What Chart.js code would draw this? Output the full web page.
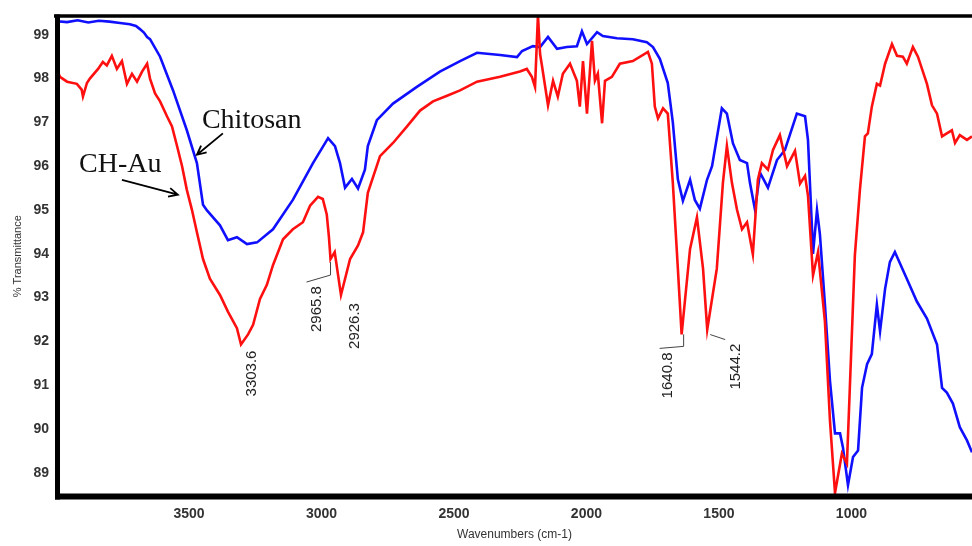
<!DOCTYPE html>
<html>
<head>
<meta charset="utf-8">
<title>FTIR Chitosan / CH-Au</title>
<script src="https://cdn.jsdelivr.net/npm/chart.js@4.4.1/dist/chart.umd.min.js"></script>
<style>
  html, body { margin: 0; padding: 0; background: #fff; }
  canvas { display: block; }
</style>
</head>
<body>
<canvas id="ftirChart" width="972" height="546"></canvas>
<script>
// Chitosan (blue)
const chitosanWn = [3998, 3960, 3920, 3880, 3840, 3800, 3760, 3723, 3700, 3685, 3670, 3658, 3647, 3609, 3560, 3508, 3470, 3447, 3432, 3383,
  3353, 3319, 3281, 3243, 3183, 3108, 3032, 2975, 2949, 2930, 2911, 2885, 2862, 2836, 2825, 2791, 2730, 2640, 2553, 2477,
  2413, 2326, 2262, 2243, 2202, 2175, 2145, 2111, 2074, 2036, 2017, 1998, 1960, 1938, 1885, 1825, 1772, 1749, 1723, 1693,
  1674, 1655, 1636, 1609, 1591, 1572, 1545, 1526, 1489, 1470, 1447, 1421, 1394, 1383, 1364, 1345, 1315, 1281, 1251, 1206,
  1175, 1164, 1149, 1145, 1130, 1119, 1100, 1081, 1062, 1043, 1032, 1013, 994, 975, 960, 941, 923, 904, 892, 873,
  855, 836, 791, 753, 715, 677, 658, 640, 617, 591, 564, 545];
const chitosanT = [99.31, 99.29, 99.33, 99.28, 99.32, 99.3, 99.27, 99.24, 99.2, 99.13, 99.05, 98.95, 98.9, 98.5, 97.73, 96.82, 96.07, 95.12, 94.99, 94.65,
  94.31, 94.38, 94.22, 94.26, 94.56, 95.23, 96.07, 96.64, 96.46, 96.07, 95.51, 95.71, 95.49, 95.92, 96.46, 97.05, 97.43, 97.81, 98.16, 98.4,
  98.59, 98.54, 98.49, 98.63, 98.74, 98.72, 98.95, 98.68, 98.72, 98.74, 99.08, 98.79, 99.06, 98.97, 98.92, 98.9, 98.83, 98.72, 98.45, 97.9,
  97.0, 95.7, 95.21, 95.69, 95.23, 95.03, 95.69, 96.0, 97.32, 97.2, 96.52, 96.14, 96.07, 95.62, 95.01, 95.85, 95.51, 96.14, 96.37, 97.2,
  97.14, 96.6, 94.6, 94.0, 95.0, 94.45, 92.84, 91.1, 89.9, 89.9, 89.58, 88.72, 89.36, 89.51, 90.94, 91.48, 91.71, 92.84, 92.23, 93.2,
  93.81, 94.04, 93.43, 92.91, 92.52, 91.93, 90.94, 90.83, 90.58, 90.04, 89.74, 89.47];

// CH-Au (red)
const chauWn = [3998, 3987, 3960, 3923, 3905, 3900, 3885, 3874, 3843, 3825, 3810, 3791, 3772, 3753, 3734, 3715, 3696, 3677, 3658, 3647,
  3628, 3609, 3583, 3564, 3545, 3526, 3508, 3489, 3470, 3447, 3421, 3383, 3353, 3319, 3303.6, 3277, 3258, 3232, 3206, 3183,
  3145, 3108, 3070, 3043, 3013, 2995, 2980, 2972, 2965.8, 2950, 2926.3, 2892, 2862, 2843, 2825, 2779, 2730, 2677, 2628, 2579,
  2526, 2477, 2413, 2326, 2251, 2225, 2206, 2194, 2183, 2175, 2168, 2145, 2126, 2108, 2089, 2062, 2036, 2025, 2013, 1998,
  1979, 1968, 1957, 1941, 1930, 1904, 1874, 1825, 1768, 1753, 1742, 1730, 1711, 1693, 1674, 1655, 1640.8, 1609, 1583, 1560,
  1544.2, 1508, 1485, 1470, 1451, 1432, 1413, 1394, 1372, 1353, 1338, 1315, 1296, 1270, 1243, 1213, 1194, 1175, 1164, 1145,
  1126, 1100, 1081, 1062, 1036, 1017, 1006, 987, 968, 949, 938, 923, 904, 892, 873, 847, 828, 806, 791, 768,
  749, 715, 696, 677, 658, 640, 621, 609, 591, 564, 545];
const chauT = [98.2, 98.04, 97.93, 97.88, 97.75, 97.59, 97.9, 98.0, 98.22, 98.38, 98.3, 98.52, 98.22, 98.4, 97.88, 98.11, 97.93, 98.16, 98.34, 98.0,
  97.66, 97.48, 97.14, 96.91, 96.46, 96.0, 95.46, 95.01, 94.49, 93.88, 93.43, 93.06, 92.68, 92.3, 91.93, 92.16, 92.38, 92.97, 93.29, 93.74,
  94.33, 94.56, 94.72, 95.1, 95.3, 95.25, 94.9, 94.4, 93.88, 94.04, 93.06, 93.88, 94.19, 94.49, 95.39, 96.23, 96.53, 96.91, 97.27, 97.48,
  97.61, 97.73, 97.93, 98.04, 98.16, 98.22, 98.04, 97.81, 99.45, 98.56, 98.3, 97.39, 97.95, 97.59, 98.11, 98.34, 97.95, 97.36, 98.4, 97.2,
  98.86, 97.95, 98.11, 96.98, 97.95, 98.04, 98.34, 98.4, 98.61, 98.34, 97.36, 97.09, 97.32, 97.2, 95.62, 93.66, 92.16, 94.11, 94.83, 93.66,
  92.27, 93.66, 95.62, 96.46, 95.62, 95.01, 94.56, 94.72, 93.99, 95.69, 96.07, 95.92, 96.37, 96.71, 96.0, 96.35, 95.6, 95.78, 95.33, 93.51,
  94.04, 92.45, 90.19, 88.54, 89.44, 89.21, 90.94, 93.97, 95.46, 96.68, 96.75, 97.36, 97.88, 97.84, 98.34, 98.79, 98.52, 98.5, 98.34, 98.72,
  98.5, 97.88, 97.39, 97.2, 96.68, 96.75, 96.82, 96.53, 96.71, 96.6, 96.68];

const xTicks = [3500, 3000, 2500, 2000, 1500, 1000];
const yTicks = [89, 90, 91, 92, 93, 94, 95, 96, 97, 98, 99];

// označeni pikovi CH-Au krivulje
const peakLabels = ['3303.6', '2965.8', '2926.3', '1640.8', '1544.2'];
const peakWn = [3303.6, 2965.8, 2926.3, 1640.8, 1544.2];
const peakT = [91.93, 93.88, 93.06, 92.16, 92.27];

// pomaci teksta i linija od vrha (px)
const peakLayout = [
  { dx: 11, dy: 52, leader: null },
  { dx: -14, dy: 73, leader: [[0, 3], [0, 16], [-24, 23]] },
  { dx: 14, dy: 54, leader: null },
  { dx: -14, dy: 64, leader: [[2, 0], [2, 12], [-22, 14]] },
  { dx: 29, dy: 60, leader: [[3, 5], [18, 10]] }
];

// nazivi krivulja sa strelicama (koordinate u jedinicama podataka)
const seriesNames = ['Chitosan', 'CH-Au'];
const nameAt = [[3451, 96.87], [3915, 95.87]];
const arrowFrom = [[3372, 96.75], [3753, 95.69]];
const arrowTo = [[3470, 96.26], [3542, 95.35]];

function toPoints(xs, ys) {
  return xs.map((x, i) => ({ x: x, y: ys[i] }));
}

const ftirDecor = {
  id: 'ftirDecor',
  afterDatasetsDraw(chart) {
    const ctx = chart.ctx;
    const xs = chart.scales.x;
    const ys = chart.scales.y;
    const a = chart.chartArea;
    ctx.save();

    // debeli okvir
    ctx.strokeStyle = '#000';
    ctx.lineCap = 'butt';
    ctx.lineWidth = 3.5;
    ctx.beginPath(); ctx.moveTo(a.left - 3, a.top - 0.5); ctx.lineTo(a.right, a.top - 0.5); ctx.stroke();
    ctx.lineWidth = 5;
    ctx.beginPath(); ctx.moveTo(a.left + 0.5, a.top - 2); ctx.lineTo(a.left + 0.5, a.bottom + 3.5); ctx.stroke();
    ctx.lineWidth = 6;
    ctx.beginPath(); ctx.moveTo(a.left - 2, a.bottom + 0.5); ctx.lineTo(a.right, a.bottom + 0.5); ctx.stroke();

    // nazivi i strelice
    ctx.fillStyle = '#111';
    ctx.font = '28px "Liberation Serif", "Times New Roman", serif';
    ctx.textAlign = 'left';
    ctx.textBaseline = 'alphabetic';
    ctx.lineWidth = 1.8;
    seriesNames.forEach((name, i) => {
      ctx.fillText(name, xs.getPixelForValue(nameAt[i][0]), ys.getPixelForValue(nameAt[i][1]));
      const x1 = xs.getPixelForValue(arrowFrom[i][0]), y1 = ys.getPixelForValue(arrowFrom[i][1]);
      const x2 = xs.getPixelForValue(arrowTo[i][0]), y2 = ys.getPixelForValue(arrowTo[i][1]);
      const ang = Math.atan2(y2 - y1, x2 - x1);
      ctx.beginPath();
      ctx.moveTo(x1, y1); ctx.lineTo(x2, y2);
      ctx.moveTo(x2 - 10 * Math.cos(ang - 0.45), y2 - 10 * Math.sin(ang - 0.45));
      ctx.lineTo(x2, y2);
      ctx.lineTo(x2 - 10 * Math.cos(ang + 0.45), y2 - 10 * Math.sin(ang + 0.45));
      ctx.stroke();
    });

    // oznake pikova
    ctx.font = '15px "Liberation Sans", Arial, sans-serif';
    ctx.fillStyle = '#222';
    ctx.strokeStyle = '#444';
    ctx.lineWidth = 1;
    peakLabels.forEach((label, i) => {
      const px = xs.getPixelForValue(peakWn[i]);
      const py = ys.getPixelForValue(peakT[i]);
      const lay = peakLayout[i];
      if (lay.leader) {
        ctx.beginPath();
        lay.leader.forEach((p, j) => {
          if (j === 0) ctx.moveTo(px + p[0], py + p[1]);
          else ctx.lineTo(px + p[0], py + p[1]);
        });
        ctx.stroke();
      }
      ctx.save();
      ctx.translate(px + lay.dx, py + lay.dy);
      ctx.rotate(-Math.PI / 2);
      ctx.textAlign = 'left';
      ctx.textBaseline = 'middle';
      ctx.fillText(label, 0, 0);
      ctx.restore();
    });

    ctx.restore();
  }
};

const ctx = document.getElementById('ftirChart').getContext('2d');
new Chart(ctx, {
  type: 'line',
  data: {
    datasets: [
      {
        label: 'CH-Au',
        data: toPoints(chauWn, chauT),
        borderColor: '#ff1010',
        borderWidth: 2.6,
        pointRadius: 0,
        tension: 0
      },
      {
        label: 'Chitosan',
        data: toPoints(chitosanWn, chitosanT),
        borderColor: '#1010ff',
        borderWidth: 2.6,
        pointRadius: 0,
        tension: 0
      }
    ]
  },
  options: {
    responsive: false,
    animation: false,
    layout: { padding: { top: 12, right: 0, bottom: 0, left: 0 } },
    plugins: {
      legend: { display: false },
      tooltip: { enabled: false }
    },
    scales: {
      x: {
        type: 'linear',
        reverse: true,
        min: 545,
        max: 3998,
        afterBuildTicks: (scale) => { scale.ticks = xTicks.map(v => ({ value: v })); },
        afterFit: (scale) => { scale.height = 50; },
        grid: { display: false, drawTicks: false },
        border: { display: false },
        ticks: {
          color: '#333',
          padding: 10,
          maxRotation: 0,
          callback: (value) => String(value),
          font: { family: '"Liberation Sans", Arial, sans-serif', size: 14, weight: 'bold' }
        },
        title: {
          display: true,
          text: 'Wavenumbers (cm-1)',
          color: '#333',
          padding: { top: 0, bottom: 4 },
          font: { family: '"Liberation Sans", Arial, sans-serif', size: 12 }
        }
      },
      y: {
        type: 'linear',
        min: 88.47,
        max: 99.42,
        afterBuildTicks: (scale) => { scale.ticks = yTicks.map(v => ({ value: v })); },
        afterFit: (scale) => { scale.width = 57; },
        grid: { display: false, drawTicks: false },
        border: { display: false },
        ticks: {
          color: '#333',
          padding: 8,
          callback: (value) => String(value),
          font: { family: '"Liberation Sans", Arial, sans-serif', size: 14, weight: 'bold' }
        },
        title: {
          display: true,
          text: '% Transmittance',
          color: '#333',
          padding: { top: 11, bottom: 0 },
          font: { family: '"Liberation Sans", Arial, sans-serif', size: 11 }
        }
      }
    }
  },
  plugins: [ftirDecor]
});
</script>
</body>
</html>
